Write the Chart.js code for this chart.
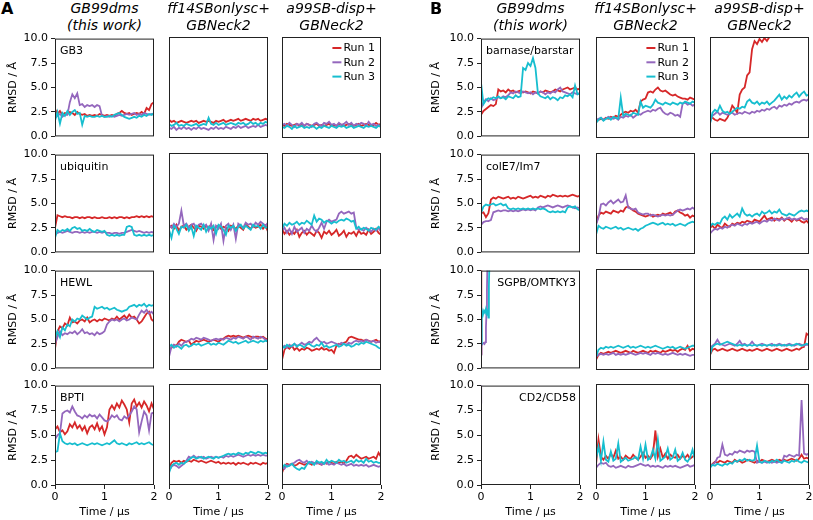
<!DOCTYPE html>
<html>
<head>
<meta charset="utf-8">
<script src="https://cdn.jsdelivr.net/npm/chart.js@4.4.1/dist/chart.umd.min.js"></script>
<style>
html, body { margin: 0; padding: 0; background: #fff; overflow: hidden; }
#fig { position: relative; width: 813px; height: 520px; }
canvas { position: absolute; }
.head { position: absolute; top: 0; width: 160px; text-align: center; font: italic 14px "DejaVu Sans"; line-height: 17px; color: #000; }
.letter { position: absolute; top: 0; font: bold 16px "DejaVu Sans"; line-height: 18px; color: #000; }
</style>
</head>
<body>
<div id="fig"></div>
<script>
// time axis (µs), one sample every 0.05
const TIME = [0,0.05,0.1,0.15,0.2,0.25,0.3,0.35,0.4,0.45,0.5,0.55,0.6,0.65,0.7,0.75,0.8,0.85,0.9,0.95,1,1.05,1.1,1.15,1.2,1.25,1.3,1.35,1.4,1.45,1.5,1.55,1.6,1.65,1.7,1.75,1.8,1.85,1.9,1.95,2]

const RUNS = ["Run 1", "Run 2", "Run 3"]
const MODELS = [["GB99dms", "(this work)"], ["ff14SBonlysc+", "GBNeck2"], ["a99SB-disp+", "GBNeck2"]]
const SYSTEMS_A = ["GB3", "ubiquitin", "HEWL", "BPTI"]
const SYSTEMS_B = ["barnase/barstar", "colE7/Im7", "SGPB/OMTKY3", "CD2/CD58"]
const X_TICKS = [0, 1, 2]
const Y_TICKS = [0, 2.5, 5, 7.5, 10]

// RMSD (Å) per model: [GB99dms, ff14SBonlysc+, a99SB-disp+], each [run1, run2, run3]
const GB3 = [
[
[2.8,2.3,2.6,2.2,2.4,2.3,2.5,2.4,2.2,2.5,2.3,2.2,2.3,2.1,2.2,2.1,2.2,2.1,2.3,2.2,2.1,2.2,2.1,2.2,2.1,2.3,2.4,2.6,2.4,2.3,2.4,2.2,2.3,2.4,2.3,2.5,2.3,2.9,2.7,3.3,3.5],
[1.9,2.1,2.3,2.0,2.2,2.2,3.5,4.3,3.9,4.4,3.2,3.3,3.0,3.2,3.1,3.2,3.0,3.2,3.1,2.1,2.0,2.1,2.0,2.1,2.0,2.1,2.2,2.1,2.2,2.3,2.2,2.3,2.4,2.2,2.3,2.2,2.4,2.3,2.2,2.3,2.2],
[1.6,2.5,1.3,2.4,2.1,2.6,2.2,2.5,2.7,2.3,2.4,1.2,2.1,2.0,2.1,2.0,2.0,2.1,2.0,2.1,2.0,2.0,2.1,2.0,2.2,2.3,2.4,2.2,2.0,1.9,1.8,1.9,2.0,1.9,2.1,2.0,2.2,2.1,2.3,2.2,2.4]
],
[
[1.8,1.6,1.7,1.5,1.6,1.7,1.6,1.5,1.6,1.7,1.6,1.7,1.5,1.6,1.7,1.6,1.7,1.6,1.5,1.7,1.6,1.7,1.8,1.6,1.7,1.8,1.7,1.8,1.9,1.7,1.8,1.9,1.8,1.7,1.9,1.8,1.9,1.7,1.8,1.9,1.8],
[1.0,0.9,1.1,0.8,1.0,0.9,1.1,0.9,1.0,0.8,1.0,0.9,1.1,0.9,1.0,0.9,0.8,1.0,0.9,1.1,0.9,1.0,0.9,1.1,1.0,0.9,1.1,1.0,1.2,1.0,1.1,1.2,1.0,1.1,1.2,1.1,1.3,1.1,1.2,1.3,1.2],
[1.4,1.2,1.3,1.5,1.2,1.3,1.2,1.4,1.3,1.2,1.3,1.4,1.2,1.3,1.4,1.3,2.0,1.4,1.3,1.5,1.3,1.4,1.5,1.3,1.4,1.5,1.4,1.3,1.5,1.4,1.5,1.3,1.4,1.6,1.4,1.5,1.3,1.5,1.4,1.6,1.5]
],
[
[1.3,1.2,1.4,1.3,1.2,1.3,1.4,1.2,1.3,1.2,1.4,1.3,1.2,1.3,1.4,1.2,1.3,1.2,1.3,1.4,1.2,1.3,1.2,1.4,1.3,1.2,1.3,1.4,1.3,1.2,1.3,1.4,1.2,1.3,1.4,1.3,1.2,1.3,1.5,1.3,1.4],
[1.3,1.4,1.2,1.5,1.3,1.1,1.4,1.3,1.5,1.2,1.4,1.3,1.1,1.4,1.5,1.3,1.2,1.5,1.4,1.6,1.3,1.4,1.2,1.5,1.3,1.4,1.6,1.3,1.5,1.2,1.4,1.3,1.5,1.4,1.2,1.6,1.3,1.4,1.2,1.3,1.1],
[1.1,1.0,1.2,1.1,0.9,1.2,1.0,1.1,1.2,1.0,1.1,1.0,1.2,1.1,0.9,1.1,1.0,1.2,1.1,1.0,1.2,1.1,1.0,1.2,1.1,1.2,1.0,1.1,1.2,1.0,1.1,1.2,1.1,1.0,1.2,1.1,1.2,1.1,1.0,1.2,1.1]
]
]

const UBIQUITIN = [
[
[2.5,3.8,3.7,3.6,3.7,3.6,3.6,3.5,3.6,3.6,3.5,3.6,3.5,3.6,3.6,3.5,3.6,3.5,3.5,3.6,3.5,3.5,3.6,3.5,3.6,3.5,3.6,3.6,3.5,3.6,3.5,3.6,3.6,3.7,3.6,3.7,3.6,3.7,3.6,3.7,3.6],
[1.8,2.0,2.1,2.0,2.1,2.2,2.1,2.0,2.1,2.1,2.0,2.1,2.0,2.1,2.0,2.1,2.1,2.0,2.1,2.0,2.1,2.0,2.0,1.9,2.0,2.0,1.9,2.0,2.0,2.1,2.2,2.3,2.2,2.1,2.2,2.1,2.0,2.1,2.0,2.1,2.0],
[1.5,2.3,2.1,2.3,2.2,2.4,2.2,2.5,2.6,2.4,2.5,2.2,2.3,2.2,2.4,2.2,2.1,2.3,2.2,2.1,2.2,1.8,1.7,1.8,1.7,1.8,1.7,1.8,1.8,2.6,2.7,2.6,1.8,1.7,1.8,1.7,1.8,1.7,1.8,1.7,1.8]
],
[
[2.6,2.8,2.5,2.9,2.3,2.7,2.8,2.4,2.7,2.9,2.6,2.3,2.8,2.7,2.5,2.8,2.6,2.9,2.4,2.7,2.8,2.5,2.7,2.6,2.3,2.8,2.7,2.5,2.8,2.6,2.4,2.9,2.7,2.5,2.8,2.6,2.7,2.9,2.5,2.8,2.2],
[2.9,2.6,3.0,2.7,3.0,4.3,2.8,3.0,2.6,2.9,3.0,2.5,2.9,3.0,2.7,2.9,2.3,3.0,1.4,2.8,2.5,3.0,1.3,2.8,3.0,2.4,2.9,1.5,3.0,2.8,2.6,3.1,2.9,3.0,2.7,3.1,2.9,3.2,3.0,2.8,3.1],
[2.4,1.6,2.8,2.5,2.0,2.7,2.6,2.9,2.3,2.7,1.8,2.8,2.6,2.4,2.9,2.2,2.7,2.5,2.8,2.0,2.9,2.7,2.4,1.9,2.8,2.6,2.8,2.3,2.7,2.9,2.5,2.8,2.6,2.4,2.9,2.7,2.8,2.5,2.9,2.6,2.7]
],
[
[2.5,2.0,2.3,1.9,2.2,2.0,2.4,1.7,2.1,2.3,1.9,2.2,2.0,1.8,2.3,2.1,1.6,2.2,2.0,2.3,1.9,2.1,2.4,1.8,2.0,2.3,1.7,2.1,2.0,2.2,1.8,2.3,2.0,2.1,1.9,2.4,2.0,2.2,2.5,2.1,1.9],
[2.3,2.6,2.1,2.5,2.0,2.7,2.2,2.4,2.6,2.1,2.5,2.3,2.8,2.4,2.2,2.6,3.1,2.5,3.2,3.4,3.2,3.3,3.4,4.0,4.2,4.0,4.1,4.2,4.0,4.1,2.6,2.4,2.5,2.3,2.6,2.4,2.2,2.5,2.3,2.6,2.2],
[2.5,3.0,2.8,3.1,2.9,3.0,3.2,2.9,3.1,3.0,3.3,3.1,2.9,3.8,3.2,3.5,3.4,3.1,3.3,3.2,3.0,3.2,3.1,3.3,3.4,3.3,3.5,3.4,3.2,3.3,2.5,2.7,2.4,2.6,2.5,2.3,2.6,2.5,2.4,2.7,2.5]
]
]

const HEWL = [
[
[2.0,3.8,4.3,4.1,4.6,4.4,5.2,4.7,4.8,4.6,4.9,5.0,4.8,5.2,4.7,4.9,5.0,4.8,5.0,4.9,5.1,5.0,4.9,5.1,5.0,5.3,5.0,5.2,5.4,5.1,5.5,5.2,5.3,5.0,4.6,4.8,5.2,5.6,5.8,5.0,4.8],
[2.5,3.2,3.8,3.4,3.6,3.5,3.7,3.6,3.8,3.5,3.7,4.0,3.6,3.7,3.5,3.6,3.4,3.7,3.5,3.6,3.8,4.5,4.8,5.0,4.9,5.0,4.8,5.0,5.1,4.9,5.0,5.2,5.1,5.0,5.5,5.9,5.7,6.0,5.6,5.8,5.5],
[3.0,3.8,3.2,4.2,3.9,4.5,4.3,5.0,4.8,5.1,5.0,5.4,5.2,5.0,5.2,5.3,6.3,6.1,6.2,6.3,6.1,6.2,6.0,6.1,6.2,6.0,5.9,5.8,5.9,6.0,6.3,6.4,6.5,6.3,6.5,6.4,6.6,6.3,6.5,6.4,6.5]
],
[
[2.0,2.2,2.5,2.4,2.8,3.0,2.9,2.8,2.9,2.5,2.7,2.9,2.8,2.9,3.0,2.9,2.8,2.9,3.0,2.9,2.8,3.0,3.1,3.3,3.4,3.3,3.4,3.3,3.4,3.3,3.2,3.3,3.4,3.3,3.2,3.3,3.3,3.2,3.3,3.1,3.0],
[1.3,2.3,2.5,2.3,2.6,2.4,2.7,2.8,2.9,3.1,3.0,3.2,3.1,3.0,3.2,3.1,3.0,2.9,3.0,3.1,3.0,3.1,3.0,3.2,3.1,3.0,3.2,3.1,3.3,3.2,3.1,3.3,3.2,3.0,3.3,3.2,3.1,3.3,3.2,3.0,2.9],
[2.3,2.5,2.2,2.4,2.3,2.1,2.4,2.5,2.3,2.4,2.6,2.5,2.6,2.4,2.5,2.6,2.7,2.5,2.6,2.5,2.7,2.6,2.5,2.7,2.9,2.8,2.7,2.8,2.6,2.7,2.8,2.9,2.7,2.8,2.9,2.8,2.7,2.9,2.8,2.9,2.8]
],
[
[1.0,2.0,2.3,2.1,2.4,2.0,2.2,1.9,2.1,2.0,2.2,2.1,1.9,2.0,2.1,2.0,2.2,2.0,2.1,1.9,2.0,1.7,2.4,2.6,2.5,2.7,2.8,3.2,3.3,3.2,3.1,3.0,3.0,2.9,3.0,2.9,2.8,2.9,3.0,2.8,2.9],
[2.1,2.4,2.2,2.5,2.3,2.6,2.4,2.5,2.7,2.5,2.6,2.8,2.7,3.0,3.2,2.9,2.7,2.8,2.6,2.7,2.8,2.7,2.6,2.5,2.7,2.6,2.5,2.7,2.6,2.8,2.9,2.8,2.9,2.8,3.0,2.9,2.8,2.9,2.7,2.8,2.7],
[2.4,2.2,2.5,2.3,2.4,2.6,2.3,2.5,2.4,2.2,2.5,2.6,2.4,2.3,2.5,2.4,2.7,2.3,2.4,2.2,2.3,2.4,2.5,2.3,2.4,2.6,2.4,2.5,2.3,2.4,2.6,2.5,2.7,2.6,2.8,2.7,2.6,2.5,2.4,2.2,2.1]
]
]

const BPTI = [
[
[5.6,5.9,5.3,5.5,5.1,5.4,6.1,5.8,6.3,5.7,6.0,5.5,5.9,5.2,5.8,6.0,5.6,6.2,5.5,5.9,5.1,5.8,7.6,8.0,7.6,8.2,7.8,8.5,8.1,7.6,6.3,8.2,8.6,7.9,8.3,7.8,8.4,8.0,7.4,8.2,7.6],
[4.6,5.0,5.2,7.2,7.4,7.5,7.3,7.9,7.4,7.0,6.9,6.7,7.0,6.8,7.1,6.9,7.0,6.7,7.1,6.8,6.5,6.4,6.6,7.0,6.8,7.0,6.6,6.5,6.9,6.7,7.0,7.4,7.9,7.6,5.3,6.4,7.4,7.0,5.5,7.2,7.3],
[3.3,3.4,5.2,4.4,4.2,4.1,4.2,4.1,4.2,4.0,4.1,4.2,4.1,4.0,4.1,4.2,4.1,4.2,4.1,4.0,4.1,4.2,4.1,4.3,4.5,4.2,4.1,4.2,4.1,4.0,4.2,4.1,4.2,4.3,4.1,4.2,4.1,4.2,4.3,4.1,4.0]
],
[
[1.6,2.2,2.4,2.3,2.4,2.2,2.4,2.3,2.4,2.3,2.5,2.4,2.3,2.4,2.3,2.2,2.3,2.4,2.3,2.2,2.3,2.1,2.2,2.1,2.2,2.1,2.2,2.0,2.2,2.1,2.2,2.1,2.0,2.2,2.1,2.2,2.1,2.0,2.2,2.1,2.2],
[1.4,1.8,2.0,1.9,1.7,1.9,2.1,2.4,2.8,2.7,2.9,2.7,2.8,2.7,2.8,2.6,2.7,2.8,2.7,2.8,2.7,2.8,2.7,2.9,2.8,2.9,2.8,2.9,3.0,2.9,2.8,2.9,3.0,2.9,3.0,2.9,3.0,2.9,3.0,2.9,2.9],
[1.2,1.9,2.1,2.2,2.0,2.2,2.1,2.3,2.5,2.7,2.8,2.6,2.7,2.8,2.6,2.7,2.8,2.7,2.6,2.8,2.7,2.8,2.9,3.0,3.1,3.0,3.1,3.0,3.2,3.1,3.0,3.2,3.1,3.3,3.2,3.1,3.3,3.2,3.1,3.2,3.1]
],
[
[1.2,1.9,2.1,2.0,2.1,1.9,2.0,2.2,2.1,2.0,2.1,2.2,2.0,2.1,2.2,2.1,2.0,2.2,2.1,2.3,2.2,2.1,2.3,2.2,2.3,2.1,2.4,2.8,2.9,2.7,3.0,2.8,2.6,2.7,2.8,2.6,2.7,2.8,2.6,3.2,2.8],
[1.8,1.6,2.0,1.9,2.1,2.2,2.4,2.5,2.3,2.2,2.4,2.1,2.3,2.2,2.1,2.2,2.0,2.1,2.2,2.0,2.1,2.0,2.2,2.1,2.0,2.1,1.9,2.0,2.1,1.9,2.0,1.9,2.0,1.9,2.0,1.8,1.9,2.0,1.9,1.8,1.9],
[1.6,2.0,1.8,1.9,2.1,1.8,1.6,1.5,1.7,1.6,2.0,2.3,2.2,2.0,2.4,2.2,2.3,2.1,2.5,2.2,2.4,2.3,2.2,2.5,2.3,2.4,2.2,2.3,2.4,2.2,2.5,2.3,2.4,2.2,2.6,2.3,2.4,2.2,2.3,2.2,2.2]
]
]

const BARNASE = [
[
[2.2,2.6,2.8,3.0,3.2,3.1,3.3,4.8,4.6,4.7,4.5,4.8,4.6,4.7,4.5,4.6,4.7,4.5,4.6,4.5,4.4,4.6,4.5,4.4,4.6,4.5,4.7,4.6,4.5,4.6,4.8,4.7,4.6,4.8,4.9,5.0,4.8,4.9,5.0,4.8,4.9],
[2.8,3.5,3.8,3.6,3.9,3.7,3.8,4.0,3.9,4.1,4.0,4.2,4.5,4.4,4.6,4.5,4.4,4.6,4.5,4.4,4.5,4.3,4.5,4.4,4.6,4.5,4.3,4.5,4.4,4.6,4.5,4.8,5.0,4.6,4.5,4.4,4.3,4.5,4.4,4.3,4.5],
[5.5,3.3,3.7,3.9,3.8,4.0,3.9,4.1,3.9,4.0,3.8,4.1,4.0,3.9,4.2,4.0,4.1,7.0,6.8,7.5,7.2,8.0,7.0,4.4,4.1,4.0,3.9,4.1,3.8,4.0,3.9,3.7,4.0,3.9,4.2,4.1,4.3,4.0,5.2,4.3,4.4]
],
[
[1.6,1.8,1.9,1.8,2.0,1.9,2.1,2.0,2.2,2.1,2.3,2.5,2.6,2.5,2.7,2.6,2.8,2.5,3.6,3.8,3.9,4.5,4.6,4.5,4.8,5.0,4.7,4.6,4.7,4.5,4.3,4.2,4.3,4.1,4.0,3.9,3.9,3.8,4.0,3.9,3.8],
[1.8,1.9,2.0,1.8,1.9,2.1,2.0,1.9,2.0,1.8,2.1,2.0,2.2,2.1,2.3,2.0,2.2,2.4,2.3,2.5,2.6,2.7,2.6,2.8,2.7,2.9,3.0,2.6,2.4,2.3,2.5,2.4,2.2,2.3,2.1,3.4,3.5,3.3,3.4,3.2,3.3],
[1.5,1.8,2.0,1.7,1.9,2.0,1.8,2.1,2.0,1.9,4.0,2.2,2.4,2.3,2.2,2.5,2.4,2.3,3.6,3.0,3.2,3.1,3.0,3.3,3.8,3.5,3.4,3.3,3.5,3.4,3.3,3.5,3.4,3.3,3.5,3.4,3.6,3.5,3.4,3.6,3.5]
],
[
[2.3,2.0,1.8,1.7,1.9,1.8,1.7,2.0,2.5,3.2,2.9,2.5,4.3,4.8,5.0,6.2,6.5,8.8,9.6,9.3,9.8,9.5,9.9,9.6,10.0,10.4,10.8,11.3,11.1,11.6,12.0,12.3,12.1,12.6,12.9,13.2,13.0,13.5,13.8,14.1,14.3],
[1.6,2.2,2.4,2.6,2.3,2.5,2.4,2.3,2.4,2.5,2.3,2.4,2.5,2.4,2.6,2.5,2.4,2.6,2.5,2.7,2.6,2.8,2.7,2.9,2.8,3.0,3.1,2.9,3.2,3.1,3.3,3.2,3.4,3.3,3.5,3.6,3.5,3.7,3.8,3.7,3.9],
[1.4,2.5,2.8,2.6,3.2,2.7,2.5,2.6,2.4,2.6,2.8,3.0,2.9,3.1,3.0,3.6,3.8,3.5,3.4,3.6,3.3,3.5,3.4,3.6,3.3,3.5,3.7,4.0,4.3,3.8,4.1,3.9,4.2,4.0,4.3,4.5,4.1,4.4,4.6,4.2,4.3]
]
]

const COLE7 = [
[
[4.0,4.1,3.6,4.0,5.4,5.6,5.5,5.7,5.6,5.5,5.6,5.7,5.5,5.6,5.5,5.7,5.6,5.5,5.6,5.7,5.8,5.6,5.7,5.6,5.8,5.7,5.6,5.8,5.7,5.9,5.8,5.7,5.8,5.7,5.8,5.7,5.8,5.9,5.8,5.7,5.8],
[2.8,3.1,3.2,3.2,3.3,4.1,4.2,4.3,4.2,4.3,4.3,4.2,4.3,4.2,4.3,4.2,4.3,4.4,4.3,4.4,4.3,4.4,4.3,4.6,4.7,4.6,4.7,4.8,4.7,4.6,4.7,4.8,4.7,4.6,4.7,4.8,4.7,4.6,4.5,4.6,4.5],
[4.0,4.7,4.9,4.8,4.9,5.0,4.8,4.9,5.0,4.8,4.9,4.5,4.4,4.5,4.4,4.5,4.4,4.5,4.4,4.5,4.4,4.5,4.4,4.5,4.4,4.5,4.4,4.2,4.1,4.2,4.1,4.2,4.1,4.2,4.1,4.6,4.7,4.6,4.7,4.4,4.3]
],
[
[3.0,3.8,4.1,4.0,4.2,4.1,4.0,4.3,4.2,4.1,4.3,4.2,4.6,4.7,4.5,4.3,4.2,4.0,3.9,3.8,3.7,3.8,3.9,3.7,3.8,3.9,3.8,4.0,3.9,4.0,4.1,3.9,4.2,4.3,4.1,4.0,3.8,3.9,3.6,3.8,3.7],
[2.9,3.6,4.9,5.0,4.8,5.1,5.3,5.0,5.2,5.4,5.1,5.2,5.8,4.6,4.5,4.4,4.5,4.1,4.0,3.9,4.0,4.0,3.8,3.9,3.8,3.7,3.8,3.9,3.8,3.9,3.8,3.9,4.1,4.3,4.4,4.3,4.4,4.5,4.4,4.6,4.4],
[1.9,2.8,2.6,2.5,2.7,2.6,2.5,2.6,2.7,2.5,2.6,2.4,2.5,2.6,2.5,2.4,2.5,2.3,2.5,2.6,2.8,2.9,3.0,3.1,3.0,2.9,3.0,3.1,2.9,3.0,2.9,3.0,2.8,2.9,3.0,2.9,2.8,3.0,3.1,3.2,3.1]
],
[
[2.6,2.8,2.5,2.9,2.7,2.6,3.0,2.8,2.7,3.0,2.9,3.1,3.0,3.2,3.1,3.3,3.2,3.1,3.4,3.3,3.2,3.5,3.8,3.4,3.5,3.6,3.3,3.5,3.4,3.6,3.3,3.5,3.4,3.2,3.5,3.3,3.4,3.2,3.1,3.3,3.0],
[2.0,2.3,2.5,2.4,2.6,2.5,2.7,2.6,2.8,2.9,2.8,3.0,2.9,2.8,3.0,2.9,3.1,3.0,3.1,3.2,3.0,3.2,3.3,3.2,3.4,3.3,3.5,3.4,3.3,3.5,3.4,3.5,3.6,3.4,3.5,3.4,3.5,3.6,3.4,3.5,3.4],
[2.7,3.0,2.9,3.1,3.0,3.5,3.7,3.4,3.9,3.6,3.8,4.0,3.7,4.5,4.0,3.8,3.9,3.7,3.9,4.0,3.8,4.2,4.0,4.1,4.3,4.0,4.2,4.1,4.4,4.0,3.9,3.8,4.0,3.9,3.8,4.0,4.2,4.3,4.2,4.3,4.2]
]
]

// the GB99dms runs of SGPB/OMTKY3 and CD2/CD58 leave the range right at the start
const SGPB_GB99_T = [[0,0.004,0.008], [0,0.01,0.03,0.05,0.07,0.09,0.1,0.11,0.12,0.13], [0,0.01,0.02,0.04,0.06,0.08,0.1,0.12,0.14,0.15,0.16,0.17]]
const SGPB_GB99_Y = [[1.5,6.0,10.8], [1.4,2.3,2.5,2.6,2.5,2.7,4.2,5.6,8.0,10.8], [2.5,5.6,6.0,5.5,5.9,5.7,6.1,5.6,5.9,5.2,8.5,10.8]]
const CD2_GB99_T = [[], [0,0.004], []]
const CD2_GB99_Y = [[], [8.3,10.8], []]

const SGPB = [
SGPB_GB99_Y.map((y, i) => ({t: SGPB_GB99_T[i], y})),
[
[1.0,1.5,1.7,1.6,1.7,1.8,1.7,1.8,1.9,1.8,1.7,1.8,1.9,1.8,1.7,1.9,1.8,1.7,1.8,1.9,1.8,1.7,1.9,1.8,1.9,1.8,1.7,1.9,1.8,1.9,2.0,1.9,2.0,1.8,2.0,2.1,2.0,2.4,1.9,2.1,2.0],
[1.3,1.5,1.6,1.5,1.6,1.5,1.6,1.7,1.5,1.6,1.5,1.6,1.5,1.6,1.7,1.6,1.5,1.6,1.7,1.6,1.7,1.6,1.5,1.7,1.6,1.7,1.6,1.5,1.6,1.5,1.6,1.7,1.6,1.5,1.6,1.5,1.6,1.5,1.4,1.5,1.5],
[1.3,2.0,2.2,2.1,2.3,2.2,2.3,2.2,2.3,2.4,2.3,2.2,2.3,2.4,2.2,2.3,2.2,2.3,2.4,2.3,2.2,2.3,2.2,2.3,2.4,2.3,2.2,2.1,2.2,2.3,2.2,2.3,2.1,2.2,2.3,2.2,2.1,2.2,2.3,2.4,2.4]
],
[
[1.5,2.0,2.1,1.9,2.0,2.1,2.0,1.9,2.0,2.1,2.0,1.9,2.0,2.1,2.0,1.9,2.0,1.9,2.0,2.1,2.0,1.9,2.0,2.1,2.0,1.9,2.0,2.1,2.0,1.9,2.0,2.1,2.0,1.9,2.0,2.1,2.0,2.2,2.3,3.6,3.4],
[2.2,2.4,2.6,3.0,2.6,2.5,2.4,2.5,2.6,2.5,2.4,2.6,2.9,2.5,2.6,2.4,2.5,2.8,2.5,2.4,2.5,2.6,2.5,2.4,2.5,2.6,2.4,2.5,2.6,2.5,2.4,2.5,2.6,2.5,2.4,2.5,2.6,2.5,2.4,2.5,2.5],
[1.5,2.3,2.5,2.6,2.5,2.6,2.7,2.8,2.7,2.6,2.5,2.4,2.5,2.4,2.5,2.4,2.5,2.4,2.5,2.4,2.5,2.4,2.5,2.4,2.5,2.4,2.5,2.4,2.5,2.4,2.5,2.4,2.5,2.4,2.5,2.6,2.5,2.4,2.5,2.6,2.5]
]
]

const CD2 = [
CD2_GB99_Y.map((y, i) => ({t: CD2_GB99_T[i], y})),
[
[2.0,4.5,2.8,2.5,2.9,2.6,3.1,2.7,3.4,2.6,2.8,2.5,2.9,2.7,2.6,3.0,2.7,2.5,2.8,3.2,2.7,2.9,2.6,3.0,5.4,2.8,3.6,2.7,3.1,2.6,3.0,2.8,2.7,3.0,2.6,2.9,2.7,3.0,2.6,2.8,3.0],
[1.7,2.0,2.2,2.1,2.2,1.9,1.8,1.9,1.7,1.8,1.9,1.8,1.7,1.9,1.8,1.8,1.9,2.0,2.1,2.0,1.9,2.0,1.8,1.9,1.8,1.9,1.8,1.7,1.9,1.8,1.9,1.8,1.9,1.8,1.7,1.8,1.9,2.0,1.8,1.9,2.0],
[2.6,3.8,2.4,4.3,2.5,2.3,3.3,2.4,2.6,4.1,2.3,2.5,2.7,2.4,2.5,2.6,2.8,2.5,3.8,2.6,4.0,2.5,2.7,3.5,2.6,4.5,2.4,2.6,2.8,3.6,2.5,2.7,3.5,2.4,2.6,3.2,2.5,2.3,2.7,3.5,2.5]
],
[
[1.8,2.1,2.3,2.2,2.4,2.3,2.2,2.4,2.3,2.2,2.5,2.3,2.4,2.2,2.3,2.5,2.4,2.3,2.2,2.4,2.3,2.5,2.4,2.3,2.4,2.5,2.4,2.3,2.5,2.4,2.5,2.4,2.5,2.6,2.5,2.4,2.6,3.0,2.6,2.7,2.6],
[1.8,2.0,2.2,2.7,2.8,4.0,3.0,2.9,3.1,3.0,3.3,3.2,3.4,3.3,3.2,3.4,3.3,3.4,3.3,2.2,2.3,2.2,2.3,2.2,2.3,2.2,2.3,2.2,2.3,2.2,2.9,2.8,3.0,2.9,2.8,3.0,2.9,8.4,3.1,3.0,3.1],
[1.7,2.0,1.9,2.1,2.0,1.9,2.1,2.0,2.2,2.1,2.4,2.3,2.5,2.4,2.6,2.4,2.5,2.4,2.5,3.9,2.3,2.2,2.4,2.3,2.2,2.4,2.3,2.5,2.3,2.2,2.4,2.3,2.2,2.4,2.3,2.5,2.3,2.2,2.4,2.3,2.2]
]
]

// layout
const ROW_TOP = [37, 153, 269, 384]
const PW = 99, PH = 101
const PAD_L = 55, PAD_T = 8, PAD_R = 8
const COLORS = ["#d62728", "#9467bd", "#17becf"]

const GROUPS = [
  {letter: "A", letterX: 1, lefts: [55, 169, 282], names: SYSTEMS_A, data: [GB3, UBIQUITIN, HEWL, BPTI],
   align: ["left", "left", "left", "left"], legendCol: 2, yTitlePad: 7},
  {letter: "B", letterX: 430, lefts: [481, 596, 710], names: SYSTEMS_B, data: [BARNASE, COLE7, SGPB, CD2],
   align: ["left", "left", "right", "right"], legendCol: 1, yTitlePad: 4}
]

Chart.defaults.font.family = '"DejaVu Sans", sans-serif'
Chart.defaults.font.size = 11
Chart.defaults.color = "#000"

const fig = document.getElementById("fig")

function toPoints(s) {
  if (Array.isArray(s)) return s.map((v, i) => ({x: TIME[i], y: v}))
  return s.y.map((v, i) => ({x: s.t[i], y: v}))
}

const panelDecor = {
  id: "panelDecor",
  afterDatasetsDraw(chart, args, o) {
    const {ctx, chartArea: a} = chart
    ctx.save()
    ctx.strokeStyle = "#222"
    ctx.lineWidth = 1
    ctx.strokeRect(a.left + 0.5, a.top + 0.5, a.right - a.left - 1, a.bottom - a.top - 1)
    ctx.font = '11px "DejaVu Sans"'
    ctx.fillStyle = "#000"
    if (o.name) {
      ctx.textAlign = o.align
      ctx.textBaseline = "alphabetic"
      ctx.fillText(o.name, o.align === "right" ? a.right - 4 : a.left + 5, a.top + 15)
    }
    if (o.legend) {
      const ds = chart.data.datasets
      const tw = Math.max(...ds.map(d => ctx.measureText(d.label).width))
      const tx = a.right - 6 - tw
      ctx.textAlign = "left"
      ctx.textBaseline = "middle"
      ds.forEach((d, i) => {
        const y = a.top + 11 + i * 14.3
        ctx.strokeStyle = d.borderColor
        ctx.lineWidth = 2
        ctx.beginPath()
        ctx.moveTo(tx - 11, y)
        ctx.lineTo(tx - 2, y)
        ctx.stroke()
        ctx.fillText(d.label, tx, y + 0.5)
      })
    }
    ctx.restore()
  }
}

function makePanel(g, row, col) {
  const bottomRow = row === 3
  const leftCol = col === 0
  const padB = bottomRow ? 520 - (ROW_TOP[row] + PH) : 8
  const W = PAD_L + PW + PAD_R
  const H = PAD_T + PH + padB

  const canvas = document.createElement("canvas")
  canvas.width = W
  canvas.height = H
  canvas.style.left = (g.lefts[col] - PAD_L) + "px"
  canvas.style.top = (ROW_TOP[row] - PAD_T) + "px"
  canvas.style.width = W + "px"
  canvas.style.height = H + "px"
  fig.appendChild(canvas)

  const runs = g.data[row][col]

  new Chart(canvas, {
    type: "line",
    data: {
      datasets: runs.map((s, i) => ({
        label: RUNS[i],
        data: toPoints(s),
        borderColor: COLORS[i],
        borderWidth: 1.8,
        pointRadius: 0,
        tension: 0,
        fill: false,
        order: 3 - i
      }))
    },
    options: {
      responsive: false,
      animation: false,
      devicePixelRatio: 1,
      events: [],
      layout: {padding: {top: PAD_T, right: PAD_R, left: 0, bottom: 0}},
      plugins: {
        legend: {display: false},
        tooltip: {enabled: false},
        panelDecor: {
          name: col === 0 ? g.names[row] : "",
          align: g.align[row],
          legend: row === 0 && col === g.legendCol
        }
      },
      scales: {
        x: {
          type: "linear", min: X_TICKS[0], max: X_TICKS[X_TICKS.length - 1],
          afterFit: s => { s.height = padB },
          afterBuildTicks: s => { s.ticks = X_TICKS.map(v => ({value: v})) },
          ticks: {display: bottomRow, padding: 2, autoSkip: false, maxRotation: 0, callback: v => String(v)},
          grid: {display: bottomRow, drawOnChartArea: false, drawTicks: true, tickLength: 4, color: "#222"},
          border: {display: false},
          title: {display: bottomRow, text: "Time / µs", padding: {top: 0, bottom: 1}}
        },
        y: {
          type: "linear", min: Y_TICKS[0], max: Y_TICKS[Y_TICKS.length - 1],
          afterFit: s => { s.width = PAD_L },
          afterBuildTicks: s => { s.ticks = Y_TICKS.map(v => ({value: v})) },
          ticks: {display: leftCol, padding: 3, autoSkip: false, callback: v => v.toFixed(1)},
          grid: {display: leftCol, drawOnChartArea: false, drawTicks: true, tickLength: 4, color: "#222"},
          border: {display: false},
          title: {display: leftCol, text: "RMSD / Å", padding: {top: g.yTitlePad, bottom: 0}}
        }
      }
    },
    plugins: [panelDecor]
  })
}

GROUPS.forEach(g => {
  const letter = document.createElement("div")
  letter.className = "letter"
  letter.style.left = g.letterX + "px"
  letter.textContent = g.letter
  fig.appendChild(letter)

  g.lefts.forEach((left, col) => {
    const head = document.createElement("div")
    head.className = "head"
    head.style.left = (left + PW / 2 - 80) + "px"
    head.innerHTML = MODELS[col][0] + "<br>" + MODELS[col][1]
    fig.appendChild(head)
    for (let row = 0; row < 4; row++) makePanel(g, row, col)
  })
})
</script>
</body>
</html>
